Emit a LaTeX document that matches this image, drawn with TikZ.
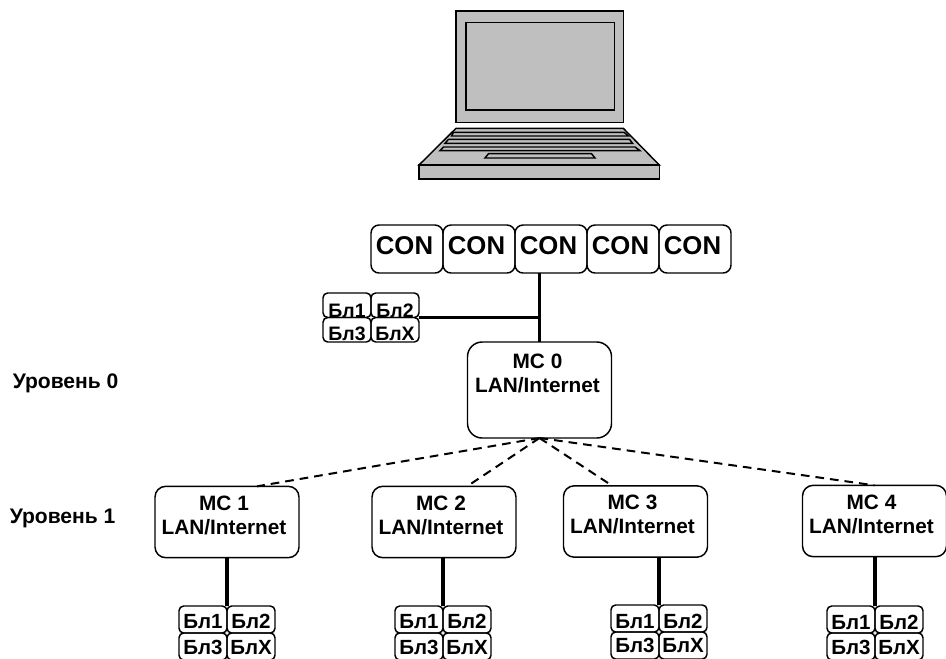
\documentclass[tikz,border=0pt]{standalone}
\usepackage{fontspec}
\setmainfont{Liberation Sans}
\usepackage{tikz}
\usetikzlibrary{positioning}

\tikzset{
    mcbox/.style={draw=black, line width=1.1pt, rounded corners=8pt, inner sep=0pt, outer sep=0pt, align=center,
        minimum width=108pt, minimum height=53.5pt, font=\fontsize{15.6}{18}\selectfont\bfseries},
    conbox/.style={draw=black, line width=1.1pt, rounded corners=6pt, inner sep=0pt, outer sep=0pt,
        minimum width=54pt, minimum height=36pt, text height=14pt, text depth=6.4pt,
        font=\fontsize{19.3}{22}\selectfont\bfseries},
    blbox/.style={draw=black, line width=1.1pt, rounded corners=3.5pt, inner sep=0pt, outer sep=0pt,
        minimum width=36pt, text depth=0pt},
    levellabel/.style={anchor=base west, inner sep=0pt, font=\fontsize{15.8}{18}\selectfont\bfseries},
    bus/.style={line width=2.6pt},
    link/.style={line width=1.5pt, dash pattern=on 6.5pt off 4.5pt},
    laptop/.style={draw=black, fill=black!25, line width=1.1pt, line join=miter}
}

\begin{document}
\begin{tikzpicture}[x=.75pt, y=-.75pt]

    \clip (0,0) rectangle (946,658);

    %Laptop
    \draw[laptop] (456,11) rectangle (623.3,122.3);
    \draw[laptop] (466,22.7) rectangle (614.3,110);
    \draw[laptop] (456,128.3) -- (623.3,128.3) -- (659.3,165) -- (419,165) -- cycle;
    \draw[laptop] (419,165) rectangle (659.3,179);
    \draw[laptop] (453.5,132.3) -- (624,132.3) -- (628.5,136) -- (451.5,136) -- cycle;
    \draw[laptop] (448.5,139.3) -- (629.5,139.3) -- (632.5,143.3) -- (445,143.3) -- cycle;
    \draw[laptop] (443.5,147) -- (635,147) -- (640,150.7) -- (440,150.7) -- cycle;
    \draw[laptop] (488.5,153.7) -- (591.5,153.7) -- (595,158) -- (485,158) -- cycle;

    %Consoles
    \foreach \n/\x in {1/407,2/479,3/551,4/623,5/695}
    \node[conbox] (con\n) at (\x,249) {CON\kern3.75pt};

    %Level labels
    \node[levellabel] (level0) at (12.5,388) {Уровень 0};
    \node[levellabel] (level1) at (9.5,523) {Уровень 1};

    %Servers
    \node[mcbox, minimum height=72pt, rounded corners=11pt] (mc0) at (539.5,390) {MC 0\kern3pt\\LAN/Internet\kern3pt\\[7.5pt]\mbox{}};
    \foreach \g/\x/\y in {1/227/522,2/444/522,3/635.5/521.5,4/874.5/521}
    \node[mcbox] (mc\g) at (\x,\y) {MC \g\kern4.5pt\\LAN/Internet\kern4.5pt\\[-7.5pt]\mbox{}};

    %Blocks
    \foreach \g/\x/\y/\h/\s/\ta/\tb in {0/323/293/24.5/14.6/18/15.5,1/179/606/27/15.4/13.5/12.6,2/395/606/27/15.4/13.5/12.6,3/611/605/27/15.4/14.25/10.5,4/827/606/27/15.4/14.25/11.25}{
        \node[blbox, minimum height=\h*.75pt, text height=\ta pt, font=\fontsize{\s}{17}\selectfont\bfseries, anchor=north west] (bl\g1) at (\x,\y) {Бл1};
        \node[blbox, minimum height=\h*.75pt, text height=\ta pt, font=\fontsize{\s}{17}\selectfont\bfseries, right=0pt of bl\g1] (bl\g2) {Бл2};
        \node[blbox, minimum height=\h*.75pt, text height=\tb pt, font=\fontsize{\s}{17}\selectfont\bfseries, below=0pt of bl\g1] (bl\g3) {Бл3};
        \node[blbox, minimum height=\h*.75pt, text height=\tb pt, font=\fontsize{\s}{17}\selectfont\bfseries, right=0pt of bl\g3] (bl\g4) {БлX};
    }

    %Solid links
    \draw[bus] (con3.south -| mc0.north) -- (mc0.north);
    \draw[bus] (bl02.south east) -- (bl02.south east -| mc0.north);
    \foreach \g in {1,...,4}
    \draw[bus] (bl\g1.north east |- mc\g.south) -- (bl\g1.north east);

    %Dashed links
    \foreach \g/\a in {1/50,2/57,3/123,4/90}
    \draw[link] (mc0.south) -- (mc\g.\a);

\end{tikzpicture}
\end{document}
